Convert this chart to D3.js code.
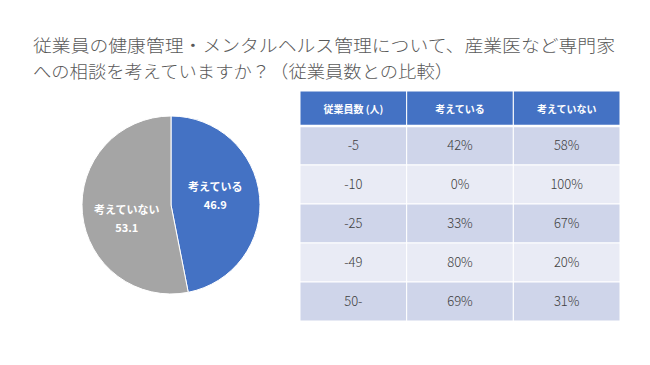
<!DOCTYPE html>
<html><head><meta charset="utf-8">
<script src="https://cdn.jsdelivr.net/npm/d3@7/dist/d3.min.js"></script>
<style>
html,body{margin:0;padding:0;background:#fff;}
svg{display:block;}
text{font-family:"Noto Sans CJK JP","Noto Sans",sans-serif;}
</style></head>
<body>
<script>
const titleLines = ["従業員の健康管理・メンタルヘルス管理について、産業医など専門家", "への相談を考えていますか？（従業員数との比較）"];
const pieLabels = ["考えている", "考えていない"];
const pieValues = [46.9, 53.1];
const pieColors = ["#4472C4", "#A5A5A5"];
const tableHeaders = ["従業員数 (人)", "考えている", "考えていない"];
const sizeCategories = ["-5", "-10", "-25", "-49", "50-"];
const considering = ["42%", "0%", "33%", "80%", "69%"];
const notConsidering = ["58%", "100%", "67%", "20%", "31%"];

const W = 650, H = 365;
const svg = d3.select("body").append("svg").attr("width", W).attr("height", H);
svg.append("rect").attr("width", W).attr("height", H).attr("fill", "#fff");

// Title
const titleX = [[33, 582], [33, 420]];
titleLines.forEach((t, i) => {
  svg.append("text").attr("x", titleX[i][0]).attr("y", 52 + i * 25.5)
    .attr("font-size", 17.5).attr("fill", "#595959").attr("font-weight", 300)
    .attr("textLength", titleX[i][1]).attr("lengthAdjust", "spacingAndGlyphs")
    .text(t);
});

// Pie
const cx = 171, cy = 205, r = 89;
const pie = d3.pie().sort(null).value(d => d)(pieValues);
const arc = d3.arc().innerRadius(0).outerRadius(r);
const g = svg.append("g").attr("transform", `translate(${cx},${cy})`);
g.selectAll("path").data(pie).enter().append("path")
  .attr("d", arc).attr("fill", (d, i) => pieColors[i])
  .attr("stroke", "#fff").attr("stroke-width", 1);
const labelArc = d3.arc().innerRadius(r * 0.5).outerRadius(r * 0.5);
const labelDy = [-10, 5];
pie.forEach((d, i) => {
  const [lx, ly] = labelArc.centroid(d);
  const tg = g.append("g").attr("transform", `translate(${lx},${ly + labelDy[i]})`);
  tg.append("text").attr("text-anchor", "middle").attr("y", 0)
    .attr("font-size", 11).attr("font-weight", "bold").attr("fill", "#fff").text(pieLabels[i]);
  tg.append("text").attr("text-anchor", "middle").attr("y", 18)
    .attr("font-size", 11).attr("font-weight", "bold").attr("fill", "#fff")
    .text(pieValues[i].toFixed(1));
});

// Table
const tx0 = 300, tx1 = 620, headTop = 91, headBot = 126, rowBot = 321;
const colX = d3.scaleBand().domain(d3.range(3)).range([tx0, tx1]);
const rowY = d3.scaleBand().domain(sizeCategories).range([headBot, rowBot]);
const tg = svg.append("g");
tableHeaders.forEach((h, j) => {
  tg.append("rect").attr("x", colX(j)).attr("y", headTop).attr("width", colX.bandwidth()).attr("height", headBot - headTop)
    .attr("fill", "#4472C4").attr("stroke", "#fff").attr("stroke-width", 1);
  tg.append("text").attr("x", colX(j) + colX.bandwidth() / 2).attr("y", (headTop + headBot) / 2 + 4)
    .attr("text-anchor", "middle").attr("font-size", 10).attr("font-weight", "bold").attr("fill", "#fff").text(h);
});
sizeCategories.forEach((c, i) => {
  const vals = [c, considering[i], notConsidering[i]];
  vals.forEach((v, j) => {
    tg.append("rect").attr("x", colX(j)).attr("y", rowY(c)).attr("width", colX.bandwidth()).attr("height", rowY.bandwidth())
      .attr("fill", i % 2 === 0 ? "#CFD5EA" : "#E9EBF5").attr("stroke", "#fff").attr("stroke-width", 1);
    tg.append("text").attr("x", colX(j) + colX.bandwidth() / 2).attr("y", rowY(c) + rowY.bandwidth() / 2 + 4.5)
      .attr("text-anchor", "middle").attr("font-size", 13).attr("fill", "#404040").attr("font-weight", 300).text(v);
  });
});
tg.append("line").attr("x1", tx0).attr("x2", tx1).attr("y1", headBot).attr("y2", headBot)
  .attr("stroke", "#fff").attr("stroke-width", 2.5);
</script>
</body></html>
